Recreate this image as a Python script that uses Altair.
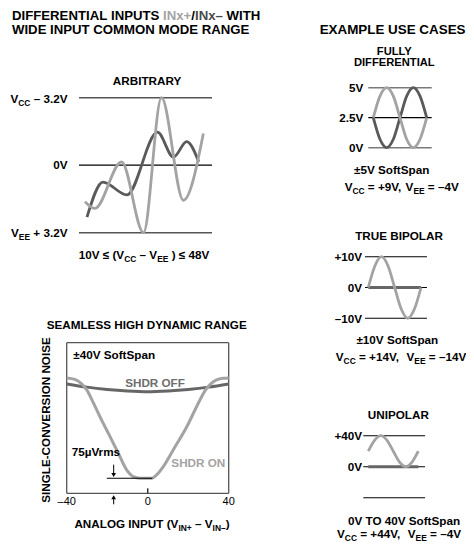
import re
import altair as alt
import pandas as pd

# ------------------------------------------------------------------ data
# ARBITRARY panel (time in % of span, level: -1 = VEE+3.2V, 0 = 0V, +1 = VCC-3.2V)
ARB_T_DARK = [6, 18, 36, 59, 71, 81, 90]
ARB_V_DARK = [-0.77, -0.25, -0.44, 0.49, 0.12, 0.35, 0.05]
ARB_T_LIGHT = [4.5, 12, 32, 48.5, 62, 78.5, 93.5]
ARB_V_LIGHT = [-0.54, -0.64, 0.05, -1.0, 1.0, -0.52, 0.47]
ARB_LEVELS_OUTER = [1, -1]
ARB_LEVELS_MID = [0]

# SEAMLESS HIGH DYNAMIC RANGE panel (input V, noise in % of box height)
SHDR_X_ON = [-40, -36, -33, -30, -27, -23.6, -18.6, -14.5, -10.4, -7.1, -3.8, 2, 4.4, 7.7,
             12.6, 19.3, 25.8, 28.5, 31, 34, 37, 40]
SHDR_Y_ON = [76.6, 75.6, 73.2, 68.5, 60.5, 50.9, 37.6, 26.6, 15.5, 11, 10, 10, 12.2, 17.7,
             28.8, 44.2, 62, 68.5, 72.5, 75.3, 76.4, 76.6]
SHDR_X_OFF = [-40, -30, -20, -10, 0, 10, 20, 30, 40]
SHDR_Y_OFF = [72.6, 70.5, 69, 68, 67.5, 68, 69, 70.5, 72.6]
SHDR_TICKS = [-40, 0, 40]
SHDR_TICK_LABELS = ["\u201340", "0", "40"]

# Example use cases (phase in quarter periods)
PHASE = [0, 0.5, 1, 1.5, 2, 2.5, 3, 3.5, 4]
FD_LIGHT = [2.5, 4.3, 5, 4.3, 2.5, 0.7, 0, 0.7, 2.5]
FD_DARK = [2.5, 0.7, 0, 0.7, 2.5, 4.3, 5, 4.3, 2.5]
FD_LEVELS_OUTER = [5, 0]
FD_LEVELS_MID = [2.5]
BIP_LIGHT = [0, 7, 10, 7, 0, -7, -10, -7, 0]
BIP_DARK_T = [0, 4]
BIP_DARK = [0, 0]
BIP_LEVELS = [10, 0, -10]
UNI_LIGHT = [20, 34, 40, 34, 20, 6, 0, 6, 20]
UNI_DARK_T = [0, 4]
UNI_DARK = [0, 0]
UNI_LEVELS = [40, 0, -40]

# texts
T_TITLE1 = [("DIFFERENTIAL INPUTS ", "n", "k"), ("INx+", "n", "l"), ("/", "n", "k"),
            ("INx\u2013", "n", "d"), (" WITH", "n", "k")]
T_TITLE2 = "WIDE INPUT COMMON MODE RANGE"
T_TITLE3 = "EXAMPLE USE CASES"
T_ARB = "ARBITRARY"
T_ARB_TOP = [("V", "n"), ("CC", "s"), (" \u2013 3.2V", "n")]
T_ARB_MID = "0V"
T_ARB_BOT = [("V", "n"), ("EE", "s"), (" + 3.2V", "n")]
T_ARB_NOTE = [("10V \u2264 (V", "n"), ("CC", "s"), (" \u2013 V", "n"), ("EE", "s"), (" ) \u2264 48V", "n")]
T_SHDR = "SEAMLESS HIGH DYNAMIC RANGE"
T_SPAN40 = "\u00b140V SoftSpan"
T_OFF = "SHDR OFF"
T_ON = "SHDR ON"
T_75 = "75\u00b5Vrms"
T_YTITLE = "SINGLE-CONVERSION NOISE"
T_XTITLE = [("ANALOG INPUT (V", "n"), ("IN+", "s"), (" \u2013 V", "n"), ("IN\u2013", "s"), (")", "n")]
T_FD1, T_FD2 = "FULLY", "DIFFERENTIAL"
T_FD_LABELS = ["5V", "2.5V", "0V"]
T_FD_SPAN = "\u00b15V SoftSpan"
T_FD_SUP = [("V", "n"), ("CC", "s"), (" = +9V, V", "n"), ("EE", "s"), (" = \u20134V", "n")]
T_BIP = "TRUE BIPOLAR"
T_BIP_LABELS = ["+10V", "0V", "\u201310V"]
T_BIP_SPAN = "\u00b110V SoftSpan"
T_BIP_SUP = [("V", "n"), ("CC", "s"), (" = +14V,  V", "n"), ("EE", "s"), (" = \u201314V", "n")]
T_UNI = "UNIPOLAR"
T_UNI_LABELS = ["+40V", "0V"]
T_UNI_SPAN = "0V TO 40V SoftSpan"
T_UNI_SUP = [("V", "n"), ("CC", "s"), (" = +44V,  V", "n"), ("EE", "s"), (" = \u20134V", "n")]

# ------------------------------------------------------------------ style / layout
OFF = 8
LIGHT = "#a3a3a3"
DARK = "#5a5a5a"
FONT = "Liberation Sans"
WAVE_W = 2.8

COLORS = {"k": "#000000", "l": LIGHT, "d": "#4a4a4a"}

BOLD_W = {' ': 278, '!': 333, '(': 333, ')': 333, '+': 584, ',': 278, '-': 333, '.': 278,
          '/': 278, '=': 584, ':': 333, '\u00b1': 549, '\u2212': 584, '\u2013': 556,
          '\u2264': 549, '\u00b5': 611,
          'A': 722, 'B': 722, 'C': 722, 'D': 722, 'E': 667, 'F': 611, 'G': 778, 'H': 722,
          'I': 278, 'J': 556, 'K': 722, 'L': 611, 'M': 833, 'N': 722, 'O': 778, 'P': 667,
          'Q': 778, 'R': 722, 'S': 667, 'T': 611, 'U': 722, 'V': 667, 'W': 944, 'X': 667,
          'Y': 667, 'Z': 611, 'a': 556, 'b': 611, 'c': 556, 'd': 611, 'e': 556, 'f': 333,
          'g': 611, 'h': 611, 'i': 278, 'l': 278, 'm': 889, 'n': 611, 'o': 611, 'p': 611,
          'r': 389, 's': 556, 't': 333, 'u': 611, 'x': 556, 'y': 556}
for _d in "0123456789":
    BOLD_W[_d] = 556

SUB_SCALE = 0.72
SUB_DROP = 0.27


def tw(s, size):
    return sum(BOLD_W.get(c, 600) for c in s) * size / 1000.0


rows = []


def add_text(spec, x, cy, align="center", size=11.7, bold=True, color="#000000"):
    """spec is a plain string or a list of (text, kind[, colorkey]) segments."""
    base = cy + 0.36 * size
    if isinstance(spec, str):
        rows.append(dict(x=x - OFF, y=base - OFF, text=spec, size=size, color=color,
                         align=align, bold=bold))
        return
    segs = []
    for s in spec:
        txt, kind = s[0], s[1]
        col = COLORS[s[2]] if len(s) > 2 else color
        sz = size if kind == "n" else size * SUB_SCALE
        dy = 0 if kind == "n" else size * SUB_DROP
        segs.append((txt, sz, dy, col))
    total = sum(tw(s[0], s[1]) for s in segs)
    if align == "left":
        cx = x
    elif align == "right":
        cx = x - total
    else:
        cx = x - total / 2
    for txt, sz, dy, col in segs:
        # place every word on its own so that runs of spaces keep their width
        for tok in re.findall(r" +|[^ ]+", txt):
            if not tok.startswith(" "):
                rows.append(dict(x=cx - OFF, y=base + dy - OFF, text=tok, size=sz,
                                 color=col, align="left", bold=bold))
            cx += tw(tok, sz)


def scale(domain, rng):
    return alt.Scale(domain=domain, range=[rng[0] - OFF, rng[1] - OFF], nice=False, zero=False)


def line(xv, yv, xs, ys, color, width=WAVE_W, interp="monotone"):
    df = pd.DataFrame({"x": xv, "y": yv})
    return alt.Chart(df).mark_line(color=color, strokeWidth=width, interpolate=interp,
                                   strokeCap="butt").encode(
        x=alt.X("x:Q", scale=xs, axis=None), y=alt.Y("y:Q", scale=ys, axis=None))


def hlines(levels, x0, x1, xs, ys, color, width):
    df = pd.DataFrame({"y": levels, "x0": [x0] * len(levels), "x1": [x1] * len(levels)})
    return alt.Chart(df).mark_rule(color=color, strokeWidth=width).encode(
        x=alt.X("x0:Q", scale=xs, axis=None), x2="x1:Q",
        y=alt.Y("y:Q", scale=ys, axis=None))


def vlines(xvals, y0, y1, xs, ys, color, width):
    df = pd.DataFrame({"x": xvals, "y0": [y0] * len(xvals), "y1": [y1] * len(xvals)})
    return alt.Chart(df).mark_rule(color=color, strokeWidth=width).encode(
        x=alt.X("x:Q", scale=xs, axis=None), y=alt.Y("y0:Q", scale=ys, axis=None), y2="y1:Q")


def head(xv, yv, shape, xs, ys):
    df = pd.DataFrame({"x": [xv], "y": [yv]})
    return alt.Chart(df).mark_point(shape=shape, filled=True, color="#000000", size=22,
                                    opacity=1).encode(
        x=alt.X("x:Q", scale=xs, axis=None), y=alt.Y("y:Q", scale=ys, axis=None))


layers = []

# ---------------- ARBITRARY
axs = scale([0, 100], [79, 212])
ays = scale([-1, 1], [232.7, 97.7])
layers += [
    hlines(ARB_LEVELS_OUTER, 0, 100, axs, ays, "#555555", 1.6),
    hlines(ARB_LEVELS_MID, 0, 100, axs, ays, "#000000", 1.2),
    line(ARB_T_DARK, ARB_V_DARK, axs, ays, DARK),
    line(ARB_T_LIGHT, ARB_V_LIGHT, axs, ays, LIGHT),
]
add_text(T_ARB, 147, 81)
add_text(T_ARB_TOP, 67.5, 98.5, align="right")
add_text(T_ARB_MID, 67.5, 165, align="right")
add_text(T_ARB_BOT, 67.5, 232.5, align="right")
add_text(T_ARB_NOTE, 144, 255)

# ---------------- SHDR
sxs = scale([-40, 40], [66.7, 228.7])
sys_ = scale([0, 100], [493.3, 342.7])
layers += [
    hlines([0, 100], -40, 40, sxs, sys_, "#555555", 1.3),
    vlines([-40, 40], 0, 100, sxs, sys_, "#555555", 1.3),
    line(SHDR_X_OFF, SHDR_Y_OFF, sxs, sys_, "#666666", 3),
    line(SHDR_X_ON, SHDR_Y_ON, sxs, sys_, LIGHT, 3),
    hlines([10], -20.2, 2.3, sxs, sys_, "#000000", 1.2),
    vlines([-16.8], 19, 13, sxs, sys_, "#000000", 1),
    head(-16.8, 12.2, "triangle-down", sxs, sys_),
    vlines([-16.8], -3.5, -7.3, sxs, sys_, "#000000", 1),
    head(-16.8, -2.6, "triangle-up", sxs, sys_),
    vlines([0], 0, 3.3, sxs, sys_, "#333333", 1.5),
]
tick_df = pd.DataFrame({"x": SHDR_TICKS, "t": SHDR_TICK_LABELS})
layers.append(alt.Chart(tick_df).mark_text(font=FONT, fontSize=11, baseline="middle",
                                           align="center", color="#000000").encode(
    x=alt.X("x:Q", scale=sxs, axis=None), y=alt.value(502 - OFF), text="t:N"))
add_text(T_SHDR, 146.7, 325)
add_text(T_SPAN40, 73.3, 355, align="left")
add_text(T_OFF, 155, 382.7, color="#6e6e6e")
add_text(T_ON, 198.3, 462.7, color=LIGHT)
add_text(T_75, 71.7, 451.7, align="left")
add_text(T_XTITLE, 152, 524)

# ---------------- FULLY DIFFERENTIAL
fxs = scale([0, 4], [373.3, 426.7])
fys = scale([0, 5], [147.7, 87.7])
layers += [
    hlines(FD_LEVELS_OUTER, -0.375, 4.375, fxs, fys, "#7a7a7a", 1.5),
    hlines(FD_LEVELS_MID, -0.375, 4.375, fxs, fys, "#000000", 1.2),
    line(PHASE, FD_DARK, fxs, fys, DARK),
    line(PHASE, FD_LIGHT, fxs, fys, LIGHT),
]
add_text(T_FD1, 394.3, 50.5, size=11.2)
add_text(T_FD2, 394.3, 62, size=11.2)
for lab, cy in zip(T_FD_LABELS, [87.7, 117.3, 147.7]):
    add_text(lab, 363.3, cy, align="right")
add_text(T_FD_SPAN, 391.7, 170)
add_text(T_FD_SUP, 401.7, 186.7)

# ---------------- TRUE BIPOLAR
bxs = scale([0, 4], [368.3, 421])
bys = scale([-10, 10], [318.3, 256.7])
layers += [
    hlines(BIP_LEVELS, -0.25, 4.45, bxs, bys, "#000000", 1.1),
    line(BIP_DARK_T, BIP_DARK, bxs, bys, "#666666", 3, interp="linear"),
    line(PHASE, BIP_LIGHT, bxs, bys, LIGHT),
]
add_text(T_BIP, 399, 236)
for lab, cy in zip(T_BIP_LABELS, [256.7, 287.3, 318.3]):
    add_text(lab, 362, cy, align="right")
add_text(T_BIP_SPAN, 397.3, 340)
add_text(T_BIP_SUP, 401, 357)

# ---------------- UNIPOLAR
uxs = scale([0, 4], [368.3, 418.3])
uys = scale([0, 40], [466.7, 435.7])
layers += [
    hlines(UNI_LEVELS, -0.4, 4.54, uxs, uys, "#000000", 1.1),
    line(UNI_DARK_T, UNI_DARK, uxs, uys, "#666666", 3, interp="linear"),
    line(PHASE, UNI_LIGHT, uxs, uys, LIGHT),
]
add_text(T_UNI, 398.3, 414.3)
for lab, cy in zip(T_UNI_LABELS, [435.7, 466.7]):
    add_text(lab, 362, cy, align="right")
add_text(T_UNI_SPAN, 404, 520.7)
add_text(T_UNI_SUP, 399, 534)

# ---------------- titles
add_text(T_TITLE1, 12, 15.3, align="left", size=13.2)
add_text(T_TITLE2, 12, 29.0, align="left", size=13.2)
add_text(T_TITLE3, 465.5, 28.8, align="right", size=13.4)

# ---------------- text layers
tdf = pd.DataFrame(rows)
for (al, bold), g in tdf.groupby(["align", "bold"]):
    layers.append(alt.Chart(g).mark_text(font=FONT, fontWeight="bold" if bold else "normal",
                                         align=al, baseline="alphabetic").encode(
        x=alt.X("x:Q", scale=None), y=alt.Y("y:Q", scale=None), text="text:N",
        size=alt.Size("size:Q", scale=None, legend=None),
        color=alt.Color("color:N", scale=None, legend=None)))

# rotated y title
layers.append(alt.Chart(pd.DataFrame({"t": [T_YTITLE]})).mark_text(
    font=FONT, fontWeight="bold", fontSize=11.7, angle=270, align="center",
    baseline="middle", color="#000000").encode(
    x=alt.value(45.7 - OFF), y=alt.value(420 - OFF), text="t:N"))

chart = alt.layer(*layers).resolve_scale(x="independent", y="independent").properties(
    width=458, height=536, padding=0, autosize=alt.AutoSizeParams(type="none"),
    background="white"
).configure_view(stroke=None)

chart.save("out.html", embed_options={"renderer": "svg", "actions": False})
